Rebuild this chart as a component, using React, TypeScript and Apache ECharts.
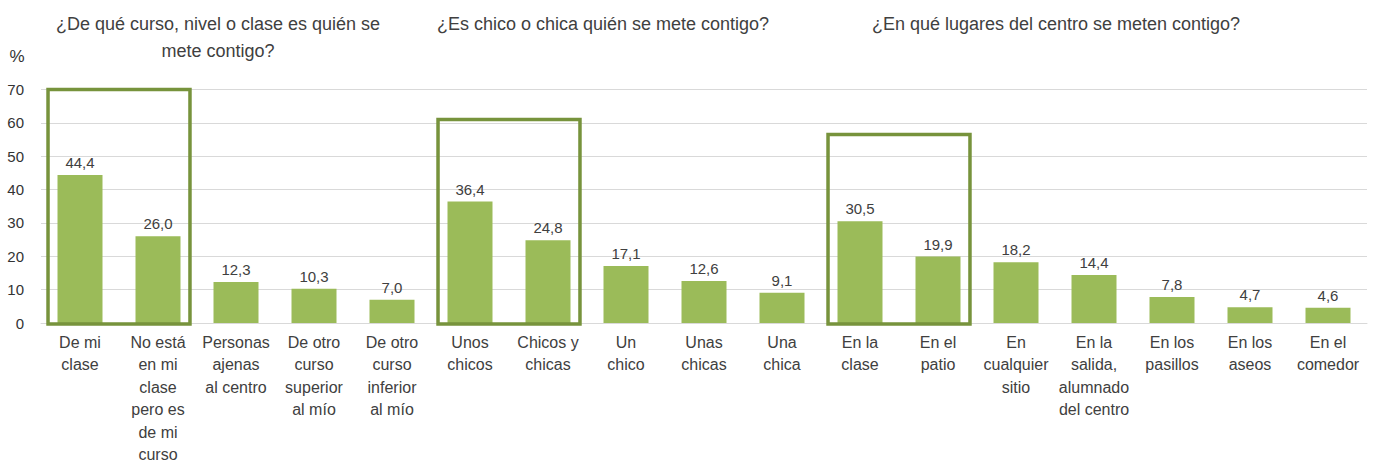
import React, { useEffect, useRef } from "react";
import * as echarts from "echarts";

const categories = [
  "De mi\nclase",
  "No está\nen mi\nclase\npero es\nde mi\ncurso",
  "Personas\najenas\nal centro",
  "De otro\ncurso\nsuperior\nal mío",
  "De otro\ncurso\ninferior\nal mío",
  "Unos\nchicos",
  "Chicos y\nchicas",
  "Un\nchico",
  "Unas\nchicas",
  "Una\nchica",
  "En la\nclase",
  "En el\npatio",
  "En\ncualquier\nsitio",
  "En la\nsalida,\nalumnado\ndel centro",
  "En los\npasillos",
  "En los\naseos",
  "En el\ncomedor",
];

const values = [44.4, 26.0, 12.3, 10.3, 7.0, 36.4, 24.8, 17.1, 12.6, 9.1, 30.5, 19.9, 18.2, 14.4, 7.8, 4.7, 4.6];

// highlighted groups: [first category index, last category index, box top value]
const highlightBoxes = [
  [0, 1, 70],
  [5, 6, 61],
  [10, 11, 56.5],
];

const groupTitles = [
  "¿De qué curso, nivel o clase es quién se\nmete contigo?",
  "¿Es chico o chica quién se mete contigo?",
  "¿En qué lugares del centro se meten contigo?",
];

const yTicks = { min: 0, max: 70, interval: 10 };

const FONT = "'Liberation Sans', Arial, sans-serif";
const TEXT = "#404040";

export default function App() {
  const ref = useRef<HTMLDivElement>(null);

  useEffect(() => {
    if (!ref.current) return;
    const chart = echarts.init(ref.current, undefined, { renderer: "svg" });
    const titleX = [218, 603, 1056];
    chart.setOption({
      animation: false,
      backgroundColor: "#ffffff",
      grid: { left: 41, right: 14, top: 89.5, bottom: 141, containLabel: false },
      graphic: [
        ...groupTitles.map((t, i) => ({
          type: "text",
          x: titleX[i],
          y: 10,
          style: {
            text: t,
            fill: TEXT,
            font: `18px ${FONT}`,
            textAlign: "center",
            textVerticalAlign: "top",
            lineHeight: 27,
          },
        })),
        {
          type: "text",
          x: 17,
          y: 56,
          style: {
            text: "%",
            fill: "#333333",
            font: `17px ${FONT}`,
            textAlign: "center",
            textVerticalAlign: "middle",
          },
        },
      ],
      xAxis: {
        type: "category",
        data: categories,
        axisLine: { show: true, lineStyle: { color: "#D9D9D9", width: 1 } },
        axisTick: { show: false },
        axisLabel: {
          interval: 0,
          color: TEXT,
          fontFamily: FONT,
          fontSize: 16,
          lineHeight: 22.5,
          margin: 8,
        },
      },
      yAxis: {
        type: "value",
        min: yTicks.min,
        max: yTicks.max,
        interval: yTicks.interval,
        axisLine: { show: false },
        axisTick: { show: false },
        axisLabel: { color: "#333333", fontFamily: FONT, fontSize: 15, margin: 17 },
        splitLine: { show: true, lineStyle: { color: "#D9D9D9", width: 1 } },
      },
      series: [
        {
          type: "bar",
          data: values,
          barWidth: 45,
          itemStyle: { color: "#9BBB59" },
          label: {
            show: true,
            position: "top",
            distance: 5,
            color: TEXT,
            fontFamily: FONT,
            fontSize: 15,
            formatter: (p: any) => Number(p.value).toFixed(1).replace(".", ","),
          },
        },
        {
          type: "custom",
          data: highlightBoxes,
          encode: { x: [0, 1], y: 2 },
          clip: false,
          z: 5,
          renderItem: (params: any, api: any) => {
            const from = api.value(0);
            const to = api.value(1);
            const top = api.value(2);
            const p1 = api.coord([from, top]);
            const p2 = api.coord([to, 0]);
            const band = api.size([1, 0])[0];
            const pad = band * 0.41;
            return {
              type: "rect",
              shape: {
                x: p1[0] - pad,
                y: p1[1],
                width: p2[0] - p1[0] + 2 * pad,
                height: p2[1] - p1[1] + 1,
              },
              style: { fill: "none", stroke: "#77933C", lineWidth: 3.5 },
            };
          },
        },
      ],
    });
    return () => chart.dispose();
  }, []);

  return (
    <div
      ref={ref}
      style={{ position: "fixed", left: 0, top: 0, width: 1381, height: 466, background: "#fff" }}
    />
  );
}
